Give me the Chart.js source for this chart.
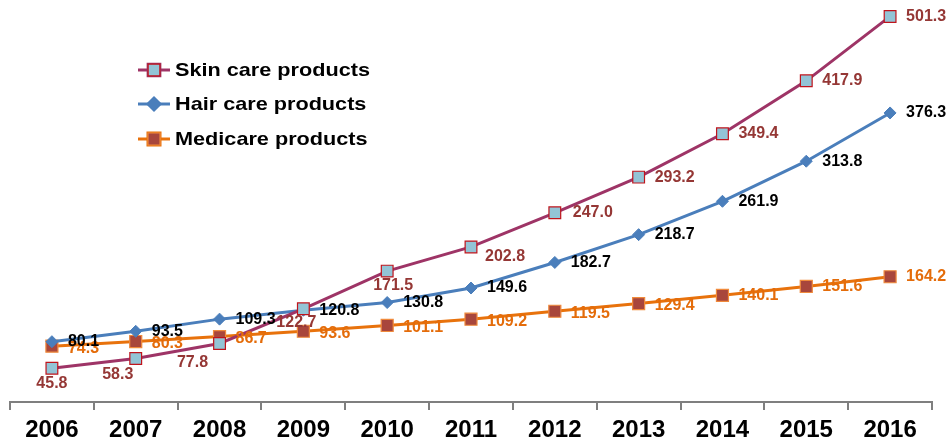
<!DOCTYPE html>
<html>
<head>
<meta charset="utf-8">
<script src="https://cdn.jsdelivr.net/npm/chart.js@4/dist/chart.umd.min.js"></script>
<style>
  html, body { margin: 0; padding: 0; background: #ffffff; }
  #wrap { position: relative; width: 952px; height: 441px; }
</style>
</head>
<body>
<div id="wrap"><canvas id="myChart" width="952" height="441"></canvas></div>
<script>
var years = ['2006', '2007', '2008', '2009', '2010', '2011', '2012', '2013', '2014', '2015', '2016'];
var skinCare = [45.8, 58.3, 77.8, 122.7, 171.5, 202.8, 247.0, 293.2, 349.4, 417.9, 501.3];
var hairCare = [80.1, 93.5, 109.3, 120.8, 130.8, 149.6, 182.7, 218.7, 261.9, 313.8, 376.3];
var medicare = [74.3, 80.3, 86.7, 93.6, 101.1, 109.2, 119.5, 129.4, 140.1, 151.6, 164.2];

var FONT = '"Liberation Sans", Arial, sans-serif';

// where each value label sits relative to its point: [dx, dy, textAlign]
var R = [16, 0, 'left'];
var labelPlacement = [
  [[0, 15, 'center'], [-18, 16, 'center'], [-27, 19, 'center'], [-7, 14, 'center'],
   [6, 14, 'center'], [14, 10, 'left'], [18, 0, 'left'], R, R, R, R],
  [R, R, R, R, R, R, R, R, R, R, R],
  [[16, 2, 'left'], [16, 2, 'left'], [16, 2, 'left'], [16, 2, 'left'], [16, 2, 'left'],
   [16, 2, 'left'], [16, 2, 'left'], [16, 2, 'left'], [16, 0, 'left'], [16, 0, 'left'], [16, 0, 'left']]
];
var labelColors = ['#953735', '#000000', '#E46C0A'];

var valueLabels = {
  id: 'valueLabels',
  afterDatasetsDraw: function(chart) {
    var ctx = chart.ctx;
    ctx.save();
    ctx.font = 'bold 16px ' + FONT;
    ctx.textBaseline = 'middle';
    // medicare first, then skin, then hair on top
    [2, 0, 1].forEach(function(d) {
      var meta = chart.getDatasetMeta(d);
      var values = chart.data.datasets[d].data;
      ctx.fillStyle = labelColors[d];
      meta.data.forEach(function(pt, i) {
        var p = labelPlacement[d][i];
        ctx.textAlign = p[2];
        ctx.fillText(values[i].toFixed(1), pt.x + p[0], pt.y + p[1]);
      });
    });
    ctx.restore();
  }
};

// legend drawn by hand in the upper left corner
var manualLegend = {
  id: 'manualLegend',
  afterDraw: function(chart) {
    var ctx = chart.ctx;
    var rows = [70, 104, 139];
    ctx.save();
    chart.data.datasets.forEach(function(ds, i) {
      var y = rows[i];
      ctx.strokeStyle = ds.borderColor;
      ctx.lineWidth = 3;
      ctx.beginPath();
      ctx.moveTo(138, y);
      ctx.lineTo(170, y);
      ctx.stroke();
      Chart.helpers.drawPoint(ctx, {
        pointStyle: ds.pointStyle,
        radius: ds.pointRadius,
        borderWidth: ds.pointBorderWidth,
        rotation: 0
      }, 154, y);
      ctx.fillStyle = ds.pointBackgroundColor;
      ctx.strokeStyle = ds.pointBorderColor;
      ctx.lineWidth = ds.pointBorderWidth;
      ctx.fill();
      ctx.stroke();
      // slightly wide lettering
      ctx.save();
      ctx.translate(175, y + 1);
      ctx.scale(1.14, 1);
      ctx.fillStyle = '#000000';
      ctx.font = 'bold 19px ' + FONT;
      ctx.textAlign = 'left';
      ctx.textBaseline = 'middle';
      ctx.fillText(ds.label, 0, 0);
      ctx.restore();
    });
    ctx.restore();
  }
};

var chart = new Chart(document.getElementById('myChart'), {
  type: 'line',
  data: {
    labels: years,
    datasets: [
      {
        label: 'Skin care products',
        data: skinCare,
        borderColor: '#9E3466',
        borderWidth: 3,
        pointStyle: 'rect',
        pointRadius: 8.3,
        pointBackgroundColor: '#93C4D6',
        pointBorderColor: '#C0141C',
        pointBorderWidth: 1.2,
        tension: 0,
        clip: false
      },
      {
        label: 'Hair care products',
        data: hairCare,
        borderColor: '#4A7EBB',
        borderWidth: 3,
        pointStyle: 'rectRot',
        pointRadius: 6,
        pointBackgroundColor: '#4A7EBB',
        pointBorderColor: '#4A7EBB',
        pointBorderWidth: 1,
        tension: 0,
        clip: false
      },
      {
        label: 'Medicare products',
        data: medicare,
        borderColor: '#E8720C',
        borderWidth: 3,
        pointStyle: 'rect',
        pointRadius: 8.5,
        pointBackgroundColor: '#A8463C',
        pointBorderColor: '#F08A3C',
        pointBorderWidth: 1.2,
        tension: 0,
        clip: false
      }
    ]
  },
  options: {
    responsive: false,
    animation: false,
    events: [],
    layout: { padding: { left: 10, right: 20, top: 2, bottom: -9 } },
    scales: {
      x: {
        type: 'category',
        offset: true,
        border: { display: true, color: '#7F7F7F', width: 2 },
        grid: { offset: true, drawOnChartArea: false, drawTicks: true, tickLength: 8, color: '#7F7F7F', lineWidth: 2 },
        ticks: {
          color: '#000000',
          font: { family: FONT, size: 24, weight: 'bold', lineHeight: 1.0 },
          padding: 8,
          maxRotation: 0,
          autoSkip: false
        }
      },
      y: {
        display: false,
        min: 2,
        max: 510
      }
    },
    plugins: {
      legend: { display: false },
      tooltip: { enabled: false }
    }
  },
  plugins: [valueLabels, manualLegend]
});
</script>
</body>
</html>
